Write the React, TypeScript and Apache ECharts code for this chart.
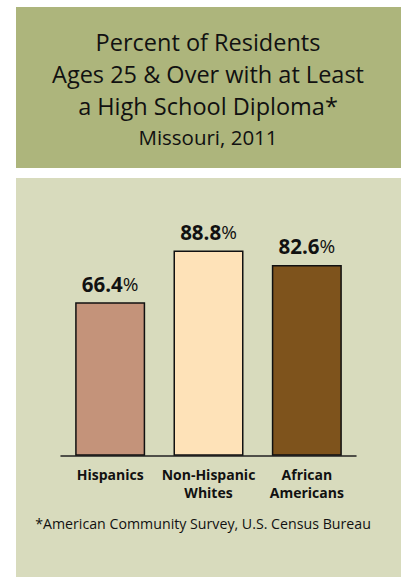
import React, { useEffect, useRef } from "react";
import * as echarts from "echarts";

const categories = ["Hispanics", "Non-Hispanic\nWhites", "African\nAmericans"];
const values = [66.4, 88.8, 82.6];
const barColors = ["#C4937A", "#FEE2B8", "#7E531C"];
const titleLines = ["Percent of Residents", "Ages 25 & Over with at Least", "a High School Diploma*"];
const subtitle = "Missouri, 2011";
const footnote = "*American Community Survey, U.S. Census Bureau";

const FONT = "Open Sans";

export default function App() {
  const ref = useRef<HTMLDivElement>(null);
  useEffect(() => {
    if (!ref.current) return;
    const chart = echarts.init(ref.current, undefined, { renderer: "svg" });
    chart.setOption({
      animation: false,
      backgroundColor: "#ffffff",
      graphic: [
        { type: "rect", z: -10, shape: { x: 16, y: 7, width: 400, height: 161 }, style: { fill: "#ADB57C" } },
        { type: "rect", z: -10, shape: { x: 16, y: 178, width: 400, height: 399 }, style: { fill: "#D8DBBD" } },
        ...titleLines.map((t, i) => ({
          type: "text",
          x: 208,
          y: 42 + i * 32,
          style: { text: t, fill: "#111", font: `23.5px "${FONT}"`, align: "center", verticalAlign: "middle" },
        })),
        {
          type: "text",
          x: 208,
          y: 137,
          style: { text: subtitle, fill: "#111", font: `20.5px "${FONT}"`, align: "center", verticalAlign: "middle" },
        },
        {
          type: "text",
          x: 203,
          y: 523,
          style: { text: footnote, fill: "#111", font: `14.2px "${FONT}"`, align: "center", verticalAlign: "middle" },
        },
      ],
      grid: { left: 61, width: 295, top: 224.7, bottom: 577 - 455.7 },
      xAxis: {
        type: "category",
        data: categories,
        axisLine: { show: true, lineStyle: { color: "#222", width: 1.5 } },
        axisTick: { show: false },
        axisLabel: {
          interval: 0,
          margin: 10,
          color: "#111",
          fontFamily: FONT,
          fontWeight: "bold",
          fontSize: 14,
          lineHeight: 18,
        },
      },
      yAxis: { type: "value", min: 0, max: 100, show: false, splitLine: { show: false } },
      series: [
        {
          type: "bar",
          barWidth: 70,
          data: values.map((v, i) => ({
            value: v,
            itemStyle: { color: barColors[i], borderColor: "#111", borderWidth: 1.5 },
          })),
          label: {
            show: true,
            position: "top",
            distance: 8,
            formatter: (p: any) => `{b|${p.value.toFixed(1)}}{p|%}`,
            rich: {
              b: { fontFamily: FONT, fontWeight: "bold", fontSize: 20.5, color: "#111" },
              p: { fontFamily: FONT, fontWeight: "normal", fontSize: 19, color: "#111" },
            },
          },
        },
      ],
    });
    return () => chart.dispose();
  }, []);
  return <div ref={ref} style={{ position: "absolute", left: 0, top: 0, width: 401, height: 577 }} />;
}
